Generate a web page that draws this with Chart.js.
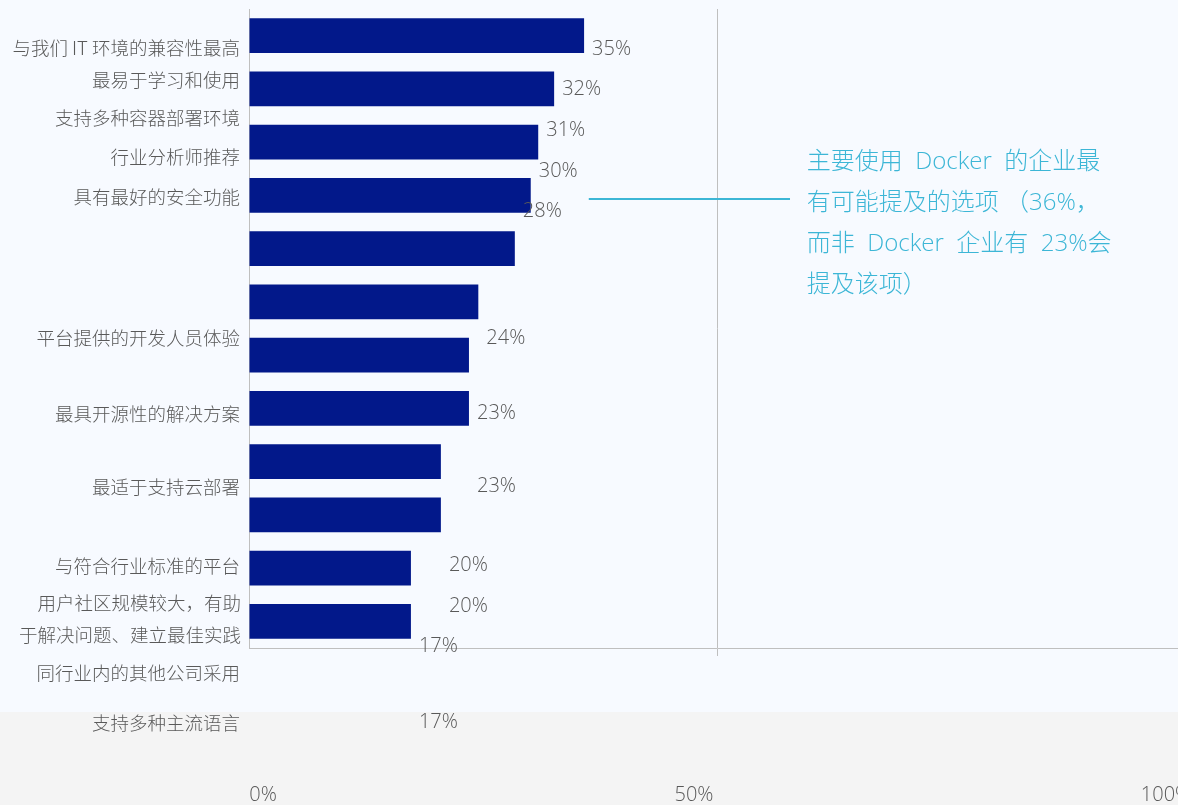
<!DOCTYPE html>
<html>
<head>
<meta charset="utf-8">
<script src="https://cdn.jsdelivr.net/npm/chart.js@4/dist/chart.umd.min.js"></script>
<style>
  html, body { margin: 0; padding: 0; overflow: hidden; width: 1178px; height: 805px; }
  body { background: linear-gradient(#f7faff 0, #f7faff 712px, #f4f4f4 712px, #f4f4f4 100%); }
  #wrap { width: 1186px; height: 805px; }
</style>
</head>
<body>
<div id="wrap"><canvas id="chart" width="1186" height="805"></canvas></div>
<script>
const categories = [
  '与我们 IT 环境的兼容性最高',
  '最易于学习和使用',
  '支持多种容器部署环境',
  '行业分析师推荐',
  '具有最好的安全功能',
  '平台提供的开发人员体验',
  '最具开源性的解决方案',
  '最适于支持云部署',
  '与符合行业标准的平台',
  ['用户社区规模较大，有助', '于解决问题、建立最佳实践'],
  '同行业内的其他公司采用',
  '支持多种主流语言'
];
const barValues = [35.8, 32.6, 30.9, 30.1, 28.4, 24.5, 23.5, 23.5, 20.5, 20.5, 17.3, 17.3];
const valueLabels = ['35%', '32%', '31%', '30%', '28%', '24%', '23%', '23%', '20%', '20%', '17%', '17%'];
const xTicks = [0, 50, 100];

// where the texts sit, in bar slots (they do not line up with the bars)
const labelSlots = [0.23, 0.83, 1.55, 2.28, 3.03, 5.68, 7.11, 8.47, 9.96, 10.95, 11.97, 12.9];
const valueSlots = [0.25, 1.0, 1.77, 2.54, 3.30, 5.68, 7.10, 8.46, 9.94, 10.71, 11.46, 12.89];

const noteLines = ['主要使用  Docker  的企业最', '有可能提及的选项 （36%，', '而非  Docker  企业有  23%会', '提及该项）'];

const textGray = '#595959';
const cyan = '#3cb6d6';
const axisGray = '#bfbfbf';

const textPlugin = {
  id: 'texts',
  afterDraw(chart) {
    const ctx = chart.ctx;
    const x = chart.scales.x;
    const y = chart.scales.y;
    const left = chart.chartArea.left;
    ctx.save();
    ctx.textBaseline = 'middle';

    // category labels
    ctx.fillStyle = textGray;
    ctx.font = '300 18.5px "Noto Sans CJK SC", sans-serif';
    ctx.textAlign = 'right';
    categories.forEach((c, i) => {
      const cy = y.getPixelForValue(labelSlots[i]);
      if (Array.isArray(c)) {
        ctx.fillText(c[0], left - 8, cy - 16);
        ctx.fillText(c[1], left - 8, cy + 16);
      } else {
        ctx.fillText(c, left - 9, cy);
      }
    });

    // value labels
    ctx.font = '300 20px "Open Sans", "Noto Sans CJK SC", sans-serif';
    ctx.textAlign = 'left';
    valueLabels.forEach((t, i) => {
      ctx.fillText(t, x.getPixelForValue(barValues[i]) + 8, y.getPixelForValue(valueSlots[i]));
    });

    // x tick labels
    const nudge = [14, -23, -19];
    ctx.textAlign = 'center';
    xTicks.forEach((v, i) => {
      ctx.fillText(v + '%', x.getPixelForValue(v) + nudge[i], 795);
    });

    // callout
    const ly = y.getPixelForValue(3.07);
    ctx.strokeStyle = cyan;
    ctx.lineWidth = 2;
    ctx.beginPath();
    ctx.moveTo(x.getPixelForValue(36.3), ly);
    ctx.lineTo(x.getPixelForValue(57.8), ly);
    ctx.stroke();

    ctx.fillStyle = cyan;
    ctx.font = '300 24px "Open Sans", "Noto Sans CJK SC", sans-serif';
    ctx.textAlign = 'left';
    const ty = y.getPixelForValue(2.37);
    noteLines.forEach((l, i) => {
      ctx.fillText(l, x.getPixelForValue(59.6), ty + i * 41);
    });
    ctx.restore();
  }
};

new Chart(document.getElementById('chart'), {
  type: 'bar',
  data: {
    labels: categories.map((c, i) => 'c' + i),
    datasets: [{
      data: barValues,
      backgroundColor: '#02188a',
      barPercentage: 0.655,
      categoryPercentage: 1
    }]
  },
  options: {
    indexAxis: 'y',
    responsive: false,
    animation: false,
    devicePixelRatio: 1,
    layout: { padding: { top: 9, right: 1, left: 0, bottom: 0 } },
    plugins: { legend: { display: false }, tooltip: { enabled: false } },
    scales: {
      x: {
        min: 0,
        max: 100,
        ticks: { display: false, stepSize: 50 },
        grid: {
          color: ctx => (ctx.tick && ctx.tick.value === 50 ? axisGray : 'transparent'),
          drawTicks: true,
          tickLength: 8
        },
        border: { display: true, color: axisGray },
        afterFit: s => { s.height = 157; }
      },
      y: {
        ticks: { display: false },
        grid: { display: false },
        border: { display: true, color: axisGray },
        afterFit: s => { s.width = 249; }
      }
    }
  },
  plugins: [textPlugin]
});
</script>
</body>
</html>
